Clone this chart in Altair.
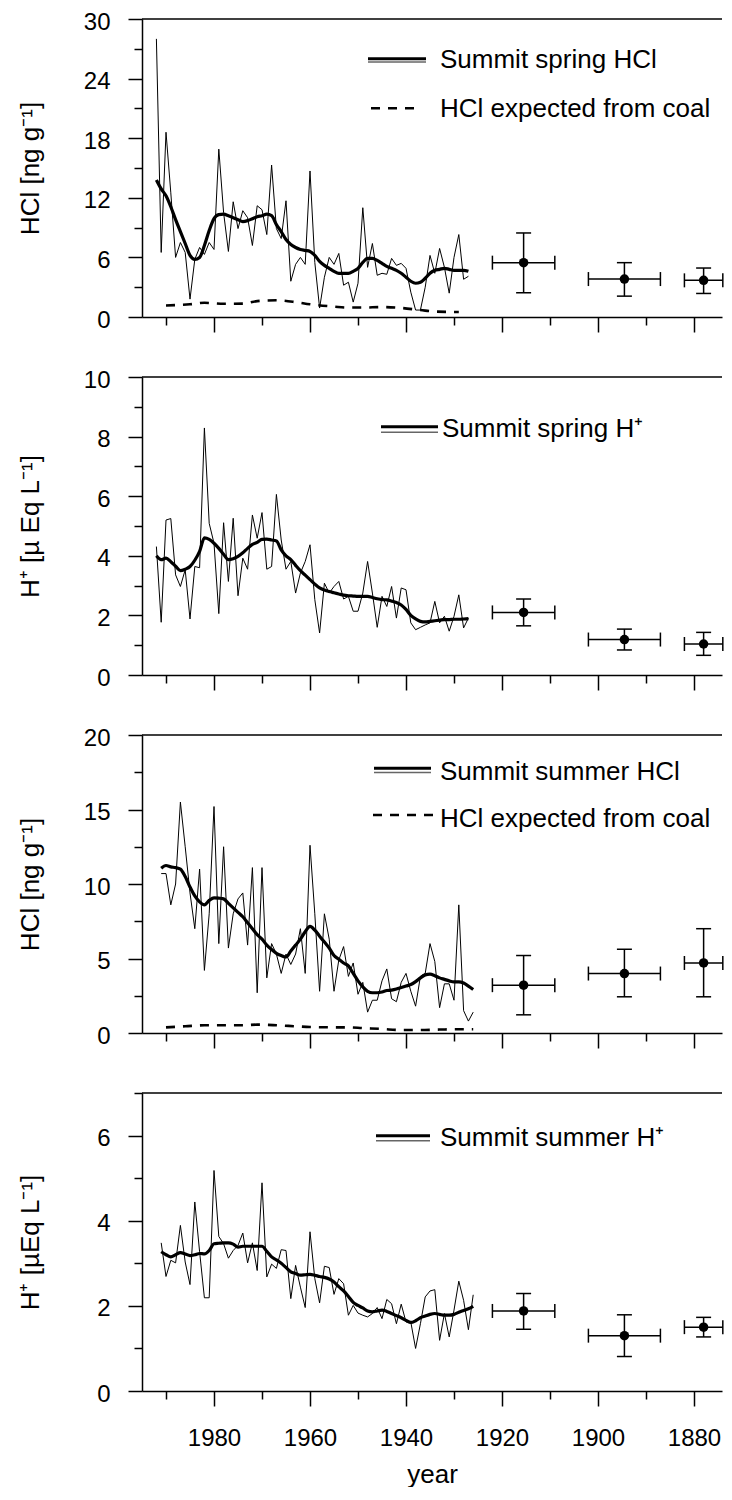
import altair as alt
import pandas as pd

FONT = "Liberation Sans, Arial, Helvetica, sans-serif"

W = 580
H = 298

X_DOMAIN = [1995, 1874.17]
X_MAJOR = [1980, 1960, 1940, 1920, 1900, 1880]
X_MINOR = [1990, 1970, 1950, 1930, 1910, 1890]

# ---------------- data ----------------
years_spring = list(range(1992, 1926, -1))   # 1992 .. 1927
years_summer = list(range(1991, 1925, -1))   # 1991 .. 1926

spring_hcl = [28.0, 6.5, 18.6, 12.5, 6.0, 7.5, 6.5, 1.8, 5.8, 7.0,
              6.3, 7.5, 6.8, 16.9, 10.5, 6.6, 11.6, 8.9, 10.7, 10.0,
              7.2, 11.2, 10.8, 8.3, 15.3, 8.9, 7.9, 11.7, 3.6, 5.3,
              6.0, 5.3, 14.7, 5.5, 0.9, 4.0, 6.0, 5.3, 6.4, 3.2,
              3.5, 1.5, 3.4, 11.0, 5.0, 7.4, 4.2, 4.4, 4.3, 5.9,
              5.2, 5.4, 4.9, 2.5, 0.7, 0.7, 3.0, 6.2, 4.4, 6.9,
              5.0, 2.4, 6.0, 8.3, 3.8, 4.1]
spring_hcl_smooth = [13.8, 12.9, 12.2, 11.1, 9.8, 8.6, 7.4, 6.2, 5.8, 6.0,
                     7.2, 8.7, 9.9, 10.3, 10.35, 10.2, 10.0, 9.8, 9.6, 9.7,
                     9.9, 10.1, 10.2, 10.35, 10.2, 9.3, 8.6, 7.8, 7.3, 7.0,
                     6.8, 6.7, 6.6, 6.2, 5.6, 5.2, 4.9, 4.6, 4.4, 4.4,
                     4.4, 4.6, 4.9, 5.5, 5.9, 5.9, 5.7, 5.4, 5.1, 4.9,
                     4.7, 4.4, 4.0, 3.6, 3.4, 3.5, 3.9, 4.4, 4.7, 4.8,
                     4.9, 4.8, 4.7, 4.7, 4.7, 4.6]
coal_spring_years = [1990, 1985, 1982, 1978, 1974, 1971, 1967, 1963, 1960,
                     1955, 1952, 1949, 1945, 1942, 1937, 1934, 1929]
coal_spring_vals = [1.16, 1.28, 1.43, 1.33, 1.35, 1.6, 1.68, 1.5, 1.28,
                    1.05, 0.95, 0.95, 1.0, 0.95, 0.7, 0.55, 0.5]

spring_h = [4.31, 1.77, 5.2, 5.25, 3.36, 2.97, 3.53, 1.88, 3.64, 3.6,
            8.29, 5.09, 4.42, 2.06, 5.11, 3.14, 5.26, 2.66, 3.92, 3.55,
            5.37, 4.59, 5.45, 3.55, 3.64, 6.06, 4.53, 3.55, 3.81, 2.75,
            3.42, 3.81, 4.37, 2.53, 1.41, 3.08, 2.75, 2.97, 3.14, 2.55,
            2.64, 2.14, 2.14, 2.75, 3.81, 2.75, 1.6, 2.64, 2.3, 2.97,
            1.91, 2.92, 2.86, 1.75, 1.52, 1.6, 1.68, 1.75, 2.47, 1.75,
            1.97, 1.47, 1.97, 2.69, 1.58, 1.91]
spring_h_smooth = [4.0, 3.87, 3.92, 3.8, 3.65, 3.5, 3.55, 3.64, 3.85, 4.15,
                   4.6, 4.55, 4.42, 4.25, 4.05, 3.87, 3.9, 3.98, 4.1, 4.25,
                   4.38, 4.45, 4.55, 4.56, 4.53, 4.5, 4.2, 4.0, 3.87, 3.68,
                   3.5, 3.35, 3.2, 3.05, 2.92, 2.85, 2.8, 2.76, 2.72, 2.68,
                   2.66, 2.65, 2.64, 2.64, 2.64, 2.6, 2.56, 2.53, 2.52, 2.48,
                   2.43, 2.35, 2.2, 2.0, 1.88, 1.8, 1.78, 1.8, 1.82, 1.84,
                   1.86, 1.86, 1.87, 1.87, 1.88, 1.89]

summer_hcl = [10.7, 10.7, 8.6, 10.0, 15.5, 12.5, 9.4, 7.0, 11.0, 4.2,
              8.0, 15.2, 6.0, 12.5, 5.7, 8.0, 9.0, 9.4, 5.9, 11.1,
              2.7, 11.1, 3.7, 6.0, 5.3, 4.0, 5.3, 4.6, 5.3, 7.0,
              4.0, 12.6, 8.0, 2.8, 8.0, 6.3, 2.8, 4.9, 5.8, 3.8,
              4.7, 2.6, 3.4, 1.4, 2.2, 2.2, 3.5, 4.3, 2.3, 2.1,
              3.4, 4.0, 2.8, 1.8, 3.8, 4.0, 6.0, 4.8, 1.7, 3.3,
              3.3, 2.2, 8.6, 1.5, 0.8, 1.4]
summer_hcl_smooth = [11.06, 11.24, 11.15, 11.1, 11.0, 10.5, 9.8, 9.2, 8.8, 8.6,
                     8.9, 9.07, 9.05, 9.0, 8.7, 8.4, 8.1, 7.8, 7.4, 7.0,
                     6.6, 6.3, 5.9, 5.6, 5.35, 5.2, 5.1, 5.5, 5.9, 6.3,
                     6.8, 7.16, 6.9, 6.5, 6.1, 5.7, 5.2, 4.95, 4.7, 4.5,
                     4.0, 3.5, 3.1, 2.8, 2.7, 2.7, 2.75, 2.85, 2.88, 2.95,
                     3.05, 3.15, 3.25, 3.45, 3.7, 3.9, 3.95, 3.85, 3.7, 3.6,
                     3.5, 3.43, 3.43, 3.35, 3.15, 2.92]
coal_summer_years = [1990, 1986, 1982, 1978, 1974, 1971, 1967, 1963, 1960,
                     1955, 1952, 1949, 1945, 1941, 1937, 1933, 1929, 1926]
coal_summer_vals = [0.38, 0.45, 0.52, 0.52, 0.52, 0.56, 0.52, 0.45, 0.4,
                    0.38, 0.38, 0.33, 0.27, 0.2, 0.2, 0.23, 0.25, 0.25]

summer_h = [3.48, 2.69, 3.07, 3.01, 3.89, 3.03, 2.5, 4.44, 3.27, 2.19,
            2.19, 5.18, 3.63, 3.46, 3.12, 3.3, 3.42, 3.71, 3.01, 3.48,
            2.83, 4.89, 2.68, 2.98, 2.88, 3.32, 3.3, 2.17, 2.95, 2.44,
            1.96, 3.74, 2.64, 2.07, 2.93, 2.9, 2.27, 2.64, 2.52, 1.78,
            2.01, 1.83, 1.78, 1.74, 1.82, 1.96, 1.7, 2.15, 2.05, 1.58,
            2.04, 1.62, 1.62, 1.0, 1.58, 2.21, 2.35, 2.38, 1.19, 1.82,
            1.27, 1.9, 2.58, 2.13, 1.44, 2.26]
summer_h_smooth = [3.27, 3.2, 3.15, 3.2, 3.25, 3.22, 3.18, 3.2, 3.23, 3.22,
                   3.3, 3.46, 3.47, 3.48, 3.48, 3.45, 3.38, 3.4, 3.4, 3.4,
                   3.4, 3.4, 3.28, 3.15, 3.08, 3.0, 2.9, 2.8, 2.76, 2.72,
                   2.73, 2.74, 2.72, 2.69, 2.67, 2.63, 2.56, 2.45, 2.35, 2.22,
                   2.08, 2.01, 1.95, 1.88, 1.86, 1.88, 1.9, 1.87, 1.82, 1.77,
                   1.72, 1.66, 1.61, 1.65, 1.72, 1.76, 1.8, 1.82, 1.8, 1.78,
                   1.78, 1.8, 1.85, 1.89, 1.93, 1.99]

# period means with error bars (same periods in all panels)
eb_year = [1915.5, 1894.5, 1878.0]
eb_year_from = [1922.0, 1902.0, 1882.0]
eb_year_to = [1909.0, 1887.0, 1874.0]

p1_mean = [5.47, 3.82, 3.69]
p1_low = [2.44, 2.10, 2.37]
p1_high = [8.46, 5.47, 4.93]

p2_mean = [2.10, 1.19, 1.04]
p2_low = [1.65, 0.84, 0.66]
p2_high = [2.55, 1.54, 1.43]

p3_mean = [3.21, 3.99, 4.70]
p3_low = [1.22, 2.43, 2.43]
p3_high = [5.20, 5.62, 7.00]

p4_mean = [1.88, 1.30, 1.50]
p4_low = [1.45, 0.81, 1.27]
p4_high = [2.29, 1.79, 1.73]


def legend_layers(items):
    layers = []
    for it in items:
        one = pd.DataFrame({"label": [it["text"]]})
        if it["kind"] == "double":
            layers.append(alt.Chart(one).mark_rule(color="black", strokeWidth=3).encode(
                x=alt.value(it["x1"]), x2=alt.value(it["x2"]), y=alt.value(it["y"])))
            layers.append(alt.Chart(one).mark_rule(color="#666666", strokeWidth=1.5).encode(
                x=alt.value(it["x1"]), x2=alt.value(it["x2"]), y=alt.value(it["y"] + it["gap"])))
        else:
            layers.append(alt.Chart(one).mark_rule(color="black", strokeWidth=2.5, strokeDash=[9, 8]).encode(
                x=alt.value(it["x1"]), x2=alt.value(it["x2"]), y=alt.value(it["y"])))
        layers.append(alt.Chart(one).mark_text(
            align="left", baseline="alphabetic", fontSize=26, font=FONT, color="black").encode(
            x=alt.value(it["tx"]), y=alt.value(it["ty"]), text="label:N"))
    return layers


def panel(years, annual, smooth, mean, low, high, ymax, major, minor, ytitle,
          legend, coal_years=None, coal_vals=None, bottom=False):
    xs = alt.Scale(domain=X_DOMAIN, nice=False, zero=False)
    ys = alt.Scale(domain=[0, ymax], nice=False, zero=False)

    xkw = dict(orient="bottom", values=X_MAJOR, format="d", tickSize=15, tickWidth=1.5,
               domainWidth=1.5, domainColor="black", tickColor="black", grid=False,
               labelFlush=False, labelOverlap=False)
    if bottom:
        xkw.update(labels=True, labelFontSize=24, labelPadding=20, labelFont=FONT,
                   labelColor="black", title="year", titleFontSize=26, titleFont=FONT,
                   titleFontWeight="normal", titleColor="black", titleBaseline="alphabetic",
                   titleY=91)
    else:
        xkw.update(labels=False, title=None)
    x_major = alt.Axis(**xkw)
    x_minor = alt.Axis(orient="bottom", values=X_MINOR, tickSize=8, tickWidth=1.5,
                       tickColor="black", domain=False, labels=False, grid=False, title=None)

    y_major = alt.Axis(orient="left", values=major, format="d", tickSize=14, tickWidth=1.5,
                       domainWidth=1.5, domainColor="black", tickColor="black", grid=False,
                       labelFontSize=24, labelPadding=18, labelOffset=3, labelOverlap=False,
                       labelFont=FONT, labelColor="black",
                       title=ytitle, titleFontSize=26, titleFont=FONT, titleFontWeight="normal",
                       titleColor="black", titleBaseline="alphabetic", titleX=-104, titleY=H / 2,
                       titleAlign="center")
    y_minor = alt.Axis(orient="left", values=minor, tickSize=8, tickWidth=1.5,
                       tickColor="black", domain=False, labels=False, grid=False, title=None)

    df = pd.DataFrame({"year": years, "annual": annual, "smooth": smooth})
    eb = pd.DataFrame({"x": eb_year, "xlo": eb_year_from, "xhi": eb_year_to,
                       "v": mean, "lo": low, "hi": high})

    thin = alt.Chart(df).mark_line(color="black", strokeWidth=1).encode(
        x=alt.X("year:Q", scale=xs, axis=x_major),
        y=alt.Y("annual:Q", scale=ys, axis=y_major))
    thick = alt.Chart(df).mark_line(color="black", strokeWidth=3.2, interpolate="monotone").encode(
        x=alt.X("year:Q", scale=xs, axis=x_minor),
        y=alt.Y("smooth:Q", scale=ys, axis=y_minor))

    layers = [thin, thick]

    if coal_years is not None:
        cdf = pd.DataFrame({"year": coal_years, "coal": coal_vals})
        layers.append(alt.Chart(cdf).mark_line(
            color="black", strokeWidth=2.6, strokeDash=[9, 8], interpolate="monotone").encode(
            x=alt.X("year:Q", axis=None), y=alt.Y("coal:Q", axis=None)))

    # top frame line
    layers.append(alt.Chart(pd.DataFrame({"k": [0]})).mark_rule(color="black", strokeWidth=1.5).encode(
        x=alt.value(0), x2=alt.value(W), y=alt.value(0)))

    ebase = alt.Chart(eb)
    layers += [
        ebase.mark_rule(color="black", strokeWidth=1.5).encode(
            x=alt.X("x:Q", axis=None), y=alt.Y("lo:Q", axis=None), y2="hi:Q"),
        ebase.mark_rule(color="black", strokeWidth=1.5).encode(
            x=alt.X("xlo:Q", axis=None), x2="xhi:Q", y=alt.Y("v:Q", axis=None)),
        ebase.mark_tick(color="black", orient="horizontal", size=15, thickness=1.5, opacity=1).encode(
            x=alt.X("x:Q", axis=None), y=alt.Y("lo:Q", axis=None)),
        ebase.mark_tick(color="black", orient="horizontal", size=15, thickness=1.5, opacity=1).encode(
            x=alt.X("x:Q", axis=None), y=alt.Y("hi:Q", axis=None)),
        ebase.mark_tick(color="black", orient="vertical", size=14, thickness=1.5, opacity=1).encode(
            x=alt.X("xlo:Q", axis=None), y=alt.Y("v:Q", axis=None)),
        ebase.mark_tick(color="black", orient="vertical", size=14, thickness=1.5, opacity=1).encode(
            x=alt.X("xhi:Q", axis=None), y=alt.Y("v:Q", axis=None)),
        ebase.mark_circle(color="black", size=90, opacity=1).encode(
            x=alt.X("x:Q", axis=None), y=alt.Y("v:Q", axis=None)),
    ]

    layers += legend_layers(legend)

    return alt.layer(*layers).resolve_axis(x="independent", y="independent").properties(
        width=W, height=H)


p1 = panel(years_spring, spring_hcl, spring_hcl_smooth, p1_mean, p1_low, p1_high,
           30, [0, 6, 12, 18, 24, 30], [3, 9, 15, 21, 27], "HCl [ng g⁻¹]",
           [dict(kind="double", x1=226, x2=284, y=39.7, gap=3.3, tx=298, ty=49.3,
                 text="Summit spring HCl"),
            dict(kind="dash", x1=229, x2=276, y=89.3, tx=298, ty=97.7,
                 text="HCl expected from coal")],
           coal_spring_years, coal_spring_vals)

p2 = panel(years_spring, spring_h, spring_h_smooth, p2_mean, p2_low, p2_high,
           10, [0, 2, 4, 6, 8, 10], [1, 3, 5, 7, 9], "H⁺ [µ Eq L⁻¹]",
           [dict(kind="double", x1=239, x2=296, y=49.7, gap=5.5, tx=300, ty=60.3,
                 text="Summit spring H⁺")])

p3 = panel(years_summer, summer_hcl, summer_hcl_smooth, p3_mean, p3_low, p3_high,
           20, [0, 5, 10, 15, 20], [2.5, 7.5, 12.5, 17.5], "HCl [ng g⁻¹]",
           [dict(kind="double", x1=232, x2=289, y=33.3, gap=4.3, tx=298, ty=45,
                 text="Summit summer HCl"),
            dict(kind="dash", x1=231, x2=292, y=80, tx=298, ty=91.7,
                 text="HCl expected from coal")],
           coal_summer_years, coal_summer_vals)

p4 = panel(years_summer, summer_h, summer_h_smooth, p4_mean, p4_low, p4_high,
           7, [0, 2, 4, 6], [1, 3, 5, 7], "H⁺ [µEq L⁻¹]",
           [dict(kind="double", x1=234, x2=288, y=42.7, gap=5, tx=298, ty=53,
                 text="Summit summer H⁺")],
           bottom=True)

chart = alt.vconcat(p1, p2, p3, p4, spacing=60, bounds="flush").properties(
    padding={"left": 8, "top": 2, "right": 0, "bottom": 0}
).configure(font=FONT, background="white").configure_view(stroke=None)

chart.save("out.html", embed_options={"renderer": "svg", "actions": False})
